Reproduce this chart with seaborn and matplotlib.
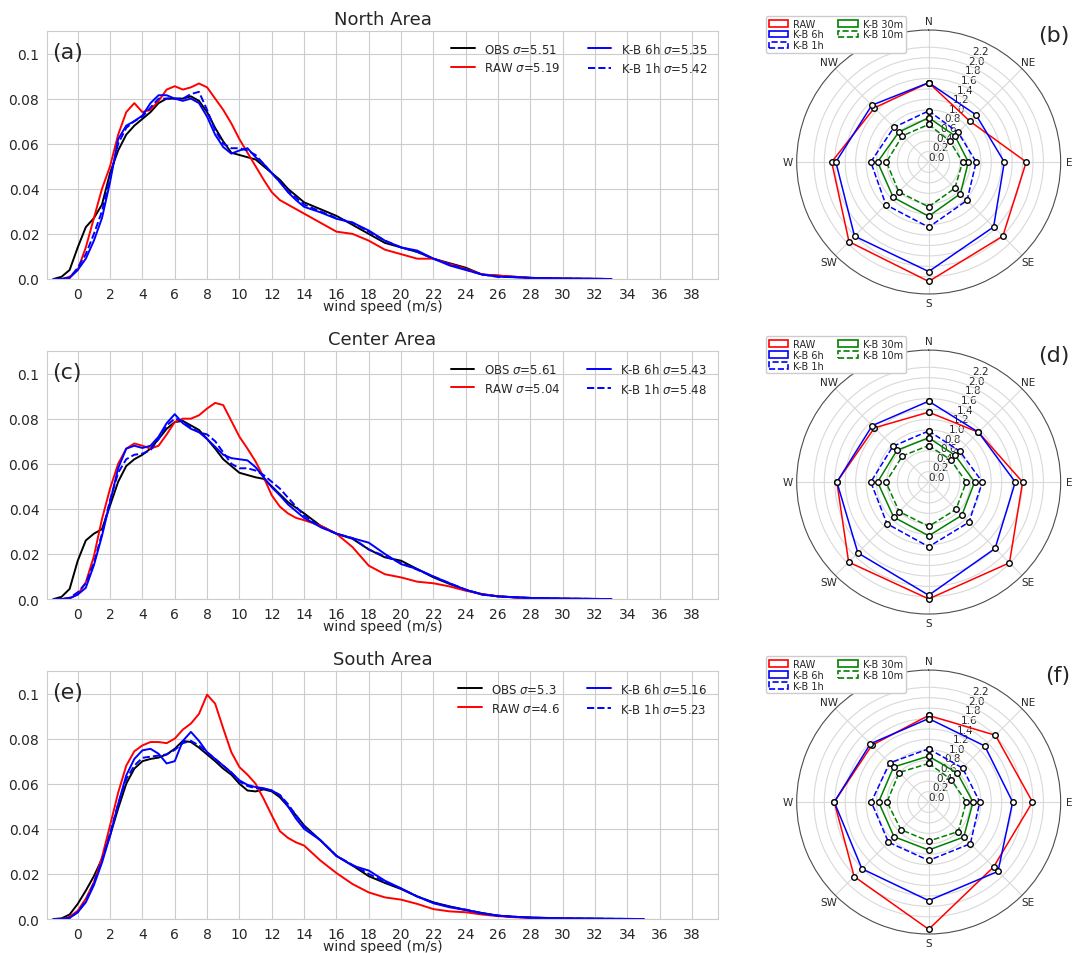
import numpy as np
import matplotlib
matplotlib.use('Agg')
import matplotlib.pyplot as plt
from matplotlib.patches import Patch
import seaborn as sns

# wind speed grid (m/s) and density values
X = [-1.5, -1, -0.5, 0, 0.5, 1, 1.5, 2, 2.5, 3, 3.5, 4, 4.5, 5, 5.5, 6, 6.5, 7, 7.5, 8,
     8.5, 9, 9.5, 10, 10.5, 11, 11.5, 12, 12.5, 13, 13.5, 14, 15, 16, 17, 18, 19, 20,
     21, 22, 23, 24, 25, 26, 27, 28, 30, 33]
X_E = X + [35]

north_obs = [0.0, 0.001, 0.004, 0.014, 0.023, 0.027, 0.033, 0.047, 0.057, 0.064, 0.068, 0.071,
             0.074, 0.078, 0.080, 0.080, 0.080, 0.081, 0.079, 0.074, 0.067, 0.061, 0.056, 0.055,
             0.054, 0.053, 0.050, 0.047, 0.044, 0.040, 0.037, 0.034, 0.031, 0.028, 0.024, 0.020,
             0.016, 0.014, 0.012, 0.009, 0.007, 0.005, 0.002, 0.0015, 0.001, 0.0005, 0.0002, 0.0]
north_raw = [0.0, 0.0, 0.001, 0.004, 0.014, 0.027, 0.040, 0.050, 0.064, 0.074, 0.078, 0.074,
             0.075, 0.079, 0.084, 0.0855, 0.084, 0.085, 0.0867, 0.085, 0.080, 0.075, 0.069, 0.062,
             0.056, 0.050, 0.044, 0.0385, 0.035, 0.033, 0.031, 0.029, 0.025, 0.021, 0.020, 0.017,
             0.013, 0.011, 0.009, 0.009, 0.0067, 0.0045, 0.002, 0.0015, 0.001, 0.0005, 0.0002, 0.0]
north_6h = [0.0, 0.0, 0.0005, 0.004, 0.009, 0.017, 0.027, 0.043, 0.062, 0.068, 0.070, 0.0725,
            0.078, 0.0815, 0.0815, 0.080, 0.079, 0.080, 0.078, 0.072, 0.064, 0.0585, 0.0556, 0.057,
            0.058, 0.054, 0.051, 0.047, 0.043, 0.0385, 0.035, 0.032, 0.0296, 0.0267, 0.025, 0.0215,
            0.017, 0.014, 0.0126, 0.009, 0.006, 0.004, 0.002, 0.001, 0.0008, 0.0005, 0.0002, 0.0]
north_1h = [0.0, 0.0, 0.0005, 0.005, 0.011, 0.020, 0.030, 0.045, 0.060, 0.067, 0.070, 0.072,
            0.076, 0.080, 0.080, 0.080, 0.080, 0.082, 0.083, 0.075, 0.066, 0.060, 0.058, 0.058,
            0.057, 0.055, 0.051, 0.047, 0.043, 0.039, 0.036, 0.033, 0.030, 0.027, 0.025, 0.021,
            0.017, 0.014, 0.012, 0.009, 0.0065, 0.0042, 0.002, 0.001, 0.0008, 0.0005, 0.0002, 0.0]

center_obs = [0.0, 0.001, 0.0045, 0.017, 0.026, 0.029, 0.031, 0.0415, 0.052, 0.059, 0.062, 0.064,
              0.0667, 0.071, 0.0755, 0.0785, 0.079, 0.077, 0.075, 0.071, 0.0667, 0.062, 0.059, 0.056,
              0.055, 0.054, 0.0533, 0.050, 0.0465, 0.043, 0.0405, 0.038, 0.0326, 0.029, 0.0267, 0.022,
              0.0185, 0.017, 0.0133, 0.0096, 0.0067, 0.004, 0.0022, 0.0012, 0.0008, 0.0005, 0.0002, 0.0]
center_raw = [0.0, 0.0, 0.0005, 0.002, 0.0074, 0.019, 0.0355, 0.049, 0.060, 0.0667, 0.069, 0.068,
              0.0667, 0.068, 0.073, 0.0785, 0.080, 0.080, 0.0815, 0.0845, 0.087, 0.086, 0.079, 0.072,
              0.0667, 0.061, 0.054, 0.046, 0.041, 0.038, 0.036, 0.035, 0.0326, 0.029, 0.023, 0.0148,
              0.011, 0.0096, 0.0077, 0.007, 0.0056, 0.0037, 0.0022, 0.0012, 0.0007, 0.0004, 0.0001, 0.0]
center_6h = [0.0, 0.0, 0.0003, 0.002, 0.005, 0.015, 0.028, 0.043, 0.058, 0.0667, 0.068, 0.067,
             0.068, 0.072, 0.078, 0.082, 0.078, 0.0755, 0.074, 0.071, 0.0675, 0.064, 0.0625, 0.062,
             0.0615, 0.0585, 0.054, 0.0496, 0.046, 0.042, 0.039, 0.036, 0.032, 0.029, 0.027, 0.025,
             0.020, 0.0155, 0.0133, 0.010, 0.007, 0.0041, 0.002, 0.0012, 0.0008, 0.0005, 0.0002, 0.0]
center_1h = [0.0, 0.0, 0.0005, 0.003, 0.007, 0.016, 0.029, 0.044, 0.056, 0.062, 0.064, 0.0645,
             0.066, 0.071, 0.077, 0.080, 0.079, 0.076, 0.074, 0.073, 0.070, 0.065, 0.060, 0.058,
             0.058, 0.057, 0.055, 0.052, 0.049, 0.045, 0.041, 0.037, 0.032, 0.029, 0.027, 0.022,
             0.019, 0.016, 0.013, 0.010, 0.007, 0.0042, 0.002, 0.0012, 0.0008, 0.0005, 0.0002, 0.0]

south_obs = [0.0, 0.0003, 0.002, 0.0067, 0.0126, 0.019, 0.0267, 0.037, 0.049, 0.060, 0.0667, 0.070,
             0.071, 0.0716, 0.073, 0.0755, 0.079, 0.0785, 0.076, 0.073, 0.070, 0.0667, 0.064, 0.060,
             0.057, 0.0566, 0.0575, 0.0566, 0.054, 0.050, 0.046, 0.0415, 0.035, 0.028, 0.0237, 0.019,
             0.016, 0.0133, 0.010, 0.0074, 0.0056, 0.004, 0.0027, 0.0015, 0.001, 0.0007, 0.0003,
             0.0001, 0.0]
south_raw = [0.0, 0.0, 0.001, 0.0037, 0.009, 0.0163, 0.0274, 0.0415, 0.056, 0.068, 0.0744, 0.077,
             0.0785, 0.0785, 0.078, 0.080, 0.084, 0.0867, 0.091, 0.0995, 0.0955, 0.0845, 0.074, 0.0674,
             0.064, 0.060, 0.0533, 0.046, 0.039, 0.036, 0.034, 0.0326, 0.026, 0.0204, 0.0155, 0.0118,
             0.0096, 0.0086, 0.0067, 0.0044, 0.0034, 0.003, 0.002, 0.0013, 0.0008, 0.0005, 0.0002,
             0.0, 0.0]
south_6h = [0.0, 0.0, 0.0005, 0.003, 0.0074, 0.015, 0.025, 0.037, 0.051, 0.0637, 0.071, 0.0748,
            0.0755, 0.0733, 0.069, 0.070, 0.079, 0.083, 0.079, 0.074, 0.071, 0.068, 0.065, 0.0615,
            0.0595, 0.0585, 0.058, 0.057, 0.055, 0.050, 0.0445, 0.040, 0.035, 0.028, 0.0237, 0.0215,
            0.017, 0.0136, 0.010, 0.007, 0.0052, 0.004, 0.0025, 0.0015, 0.001, 0.0006, 0.0003,
            0.0001, 0.0]
south_1h = [0.0, 0.0, 0.0005, 0.003, 0.008, 0.016, 0.026, 0.038, 0.051, 0.062, 0.068, 0.0715,
            0.072, 0.0725, 0.073, 0.075, 0.078, 0.079, 0.077, 0.074, 0.071, 0.068, 0.065, 0.061,
            0.059, 0.058, 0.0578, 0.057, 0.055, 0.051, 0.046, 0.041, 0.035, 0.028, 0.024, 0.020,
            0.0165, 0.0135, 0.010, 0.0072, 0.0055, 0.0042, 0.0026, 0.0015, 0.001, 0.0006, 0.0003,
            0.0001, 0.0]

titles = ['North Area', 'Center Area', 'South Area']
kde_tags = ['(a)', '(c)', '(e)']
sigmas = [[5.51, 5.19, 5.35, 5.42], [5.61, 5.04, 5.43, 5.48], [5.3, 4.6, 5.16, 5.23]]
xticks = list(range(0, 40, 2))
yticks = [0.0, 0.02, 0.04, 0.06, 0.08, 0.1]

# radar: values by wind direction
dirs = ['N', 'NE', 'E', 'SE', 'S', 'SW', 'W', 'NW']
radar_labels = ['RAW', 'K-B 6h', 'K-B 1h', 'K-B 30m', 'K-B 10m']
north_radar = [[1.52, 1.11, 1.87, 2.01, 2.29, 2.16, 1.86, 1.47],
               [1.52, 1.28, 1.45, 1.76, 2.10, 2.01, 1.78, 1.54],
               [0.98, 0.80, 0.91, 1.04, 1.25, 1.16, 1.11, 0.94],
               [0.85, 0.71, 0.76, 0.86, 1.04, 0.96, 0.98, 0.81],
               [0.72, 0.57, 0.65, 0.71, 0.86, 0.81, 0.81, 0.71]]
center_radar = [[1.34, 1.35, 1.80, 2.19, 2.24, 2.17, 1.76, 1.47],
                [1.55, 1.35, 1.66, 1.80, 2.17, 1.92, 1.76, 1.53],
                [0.98, 0.84, 1.03, 1.09, 1.24, 1.13, 1.11, 0.97],
                [0.85, 0.72, 0.88, 0.90, 1.03, 0.95, 0.98, 0.86],
                [0.70, 0.60, 0.72, 0.74, 0.85, 0.80, 0.82, 0.71]]
south_radar = [[1.66, 1.81, 1.99, 1.76, 2.44, 2.02, 1.81, 1.54],
               [1.60, 1.52, 1.61, 1.88, 1.89, 1.81, 1.81, 1.58],
               [1.02, 0.92, 0.98, 1.13, 1.12, 1.09, 1.10, 1.06],
               [0.88, 0.78, 0.85, 0.95, 0.92, 0.94, 0.96, 0.95],
               [0.74, 0.61, 0.72, 0.80, 0.75, 0.75, 0.80, 0.80]]
rticks = [0.0, 0.2, 0.4, 0.6, 0.8, 1.0, 1.2, 1.4, 1.6, 1.8, 2.0, 2.2]
radar_tags = ['(b)', '(d)', '(f)']

sns.set_style('whitegrid')
plt.rcParams['font.family'] = ['DejaVu Sans']

fig = plt.figure(figsize=(10.73, 9.54), dpi=100)

kde_sets = [(X, [north_obs, north_raw, north_6h, north_1h]),
            (X, [center_obs, center_raw, center_6h, center_1h]),
            (X_E, [south_obs, south_raw, south_6h, south_1h])]
bottoms = [0.7065, 0.371, 0.0356]
styles = [('black', '-'), ('red', '-'), ('blue', '-'), ('blue', '--')]
names = ['OBS', 'RAW', 'K-B 6h', 'K-B 1h']

for i, (xs, curves) in enumerate(kde_sets):
    ax = fig.add_axes([0.0438, bottoms[i], 0.6254, 0.26])
    for j, ys in enumerate(curves):
        sns.lineplot(x=xs, y=ys, ax=ax, color=styles[j][0], linestyle=styles[j][1], lw=1.4,
                     label=names[j] + r' $\sigma$=' + str(sigmas[i][j]))
    ax.set_xlim(-1.9, 39.6)
    ax.set_ylim(0, 0.11)
    ax.set_xticks(xticks)
    ax.set_yticks(yticks)
    ax.set_yticklabels(['0.0', '0.02', '0.04', '0.06', '0.08', '0.1'])
    ax.tick_params(labelsize=10, pad=2)
    ax.set_xlabel('wind speed (m/s)', fontsize=10, labelpad=-1)
    ax.set_ylabel('')
    ax.set_title(titles[i], fontsize=13, pad=5)
    ax.legend(loc='upper right', ncol=2, frameon=False, fontsize=8.5, columnspacing=2.3)
    ax.text(0.008, 0.915, kde_tags[i], transform=ax.transAxes, fontsize=16, va='center', ha='left')

radar_sets = [north_radar, center_radar, south_radar]
rbottoms = [0.6908, 0.3553, 0.0199]
theta = np.linspace(0, 2 * np.pi, len(dirs) + 1)
rstyles = [('red', '-'), ('blue', '-'), ('blue', '--'), ('green', '-'), ('green', '--')]

for i, sets in enumerate(radar_sets):
    ax = fig.add_axes([0.7425, rbottoms[i], 0.246, 0.2767], projection='polar')
    ax.set_theta_zero_location('N')
    ax.set_theta_direction(-1)
    for j, vals in enumerate(sets):
        r = vals + vals[:1]
        sns.lineplot(x=theta, y=r, ax=ax, sort=False, color=rstyles[j][0], linestyle=rstyles[j][1],
                     lw=1.1, marker='o', ms=4, mfc='white', mec='black', mew=1)
    ax.set_xticks(theta[:-1])
    ax.set_xticklabels(dirs, fontsize=7.5)
    ax.tick_params(axis='x', pad=-4)
    ax.set_ylim(0, 2.53)
    ax.set_yticks(rticks)
    ax.set_yticklabels([f'{t:.1f}' for t in rticks], fontsize=7.5)
    ax.set_rlabel_position(22.5)
    ax.set_xlabel('')
    ax.set_ylabel('')
    ax.grid(color='0.85', lw=0.8)
    ax.spines['polar'].set_color('0.3')
    ax.spines['polar'].set_linewidth(0.8)
    handles = [Patch(facecolor='none', edgecolor=c, linestyle=ls, lw=1.2) for c, ls in rstyles]
    ax.legend(handles, radar_labels, loc='upper left', bbox_to_anchor=(-0.135, 1.073), ncol=2,
              fontsize=7, frameon=True, framealpha=1, edgecolor='0.8', borderpad=0.3,
              labelspacing=0.1, columnspacing=1.5, handletextpad=0.5)
    fig.text(0.997, 1 - (36 + 320 * i) / 954, radar_tags[i], fontsize=16, va='center', ha='right')

fig.savefig('out.png', dpi=100)
